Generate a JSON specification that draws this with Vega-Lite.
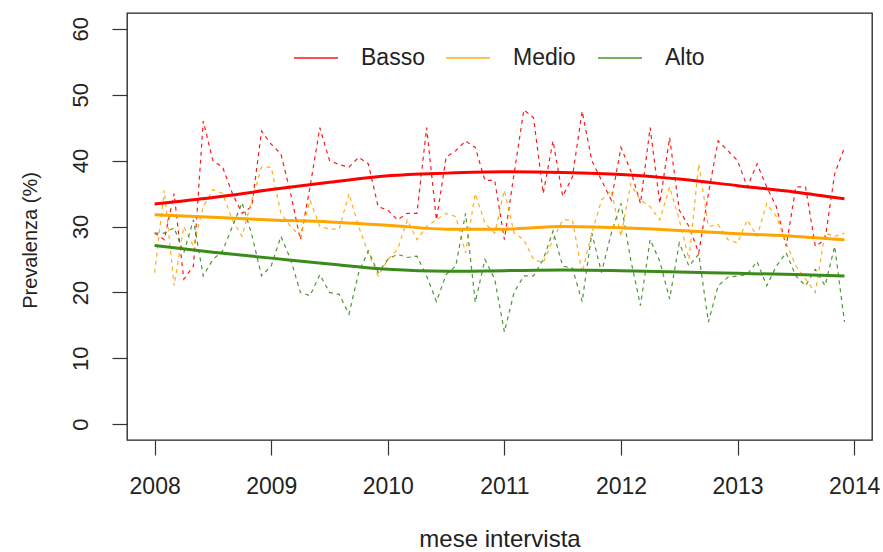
{
  "$schema": "https://vega.github.io/schema/vega-lite/v6.json",
  "width": 745,
  "height": 427,
  "autosize": {"type": "none"},
  "padding": {"left": 127, "top": 13, "right": 11, "bottom": 112},
  "background": "white",
  "config": {
    "view": {"stroke": "#222", "strokeWidth": 1.3},
    "font": "Liberation Sans",
    "axis": {
      "labelFont": "Liberation Sans", "titleFont": "Liberation Sans",
      "labelFontSize": 22, "titleFontSize": 22, "titleFontWeight": "normal",
      "labelColor": "#222", "titleColor": "#222",
      "tickColor": "#333", "tickSize": 15, "tickWidth": 1.2,
      "domain": false, "grid": false
    },
    "legend": {"labelFont": "Liberation Sans"}
  },
  "datasets": {
    "mensile": [
      {"t":2008.000,"Basso":29,"Medio":23,"Alto":29},
      {"t":2008.083,"Basso":28,"Medio":35.5,"Alto":29},
      {"t":2008.167,"Basso":35,"Medio":21,"Alto":29.8},
      {"t":2008.250,"Basso":22,"Medio":30,"Alto":26},
      {"t":2008.333,"Basso":24,"Medio":27,"Alto":31},
      {"t":2008.417,"Basso":46,"Medio":33,"Alto":22.5},
      {"t":2008.500,"Basso":40,"Medio":35.6,"Alto":25},
      {"t":2008.583,"Basso":39,"Medio":35,"Alto":26.3},
      {"t":2008.667,"Basso":35,"Medio":31,"Alto":30},
      {"t":2008.750,"Basso":32,"Medio":28.5,"Alto":33.6},
      {"t":2008.833,"Basso":33,"Medio":34,"Alto":28.8},
      {"t":2008.917,"Basso":44.5,"Medio":39,"Alto":22.5},
      {"t":2009.000,"Basso":42.5,"Medio":39,"Alto":24},
      {"t":2009.083,"Basso":41,"Medio":32,"Alto":28.5},
      {"t":2009.167,"Basso":35,"Medio":30,"Alto":25},
      {"t":2009.250,"Basso":28,"Medio":28.5,"Alto":20},
      {"t":2009.333,"Basso":36,"Medio":34,"Alto":19.5},
      {"t":2009.417,"Basso":45,"Medio":30,"Alto":22.7},
      {"t":2009.500,"Basso":40,"Medio":29.6,"Alto":20},
      {"t":2009.583,"Basso":39.4,"Medio":29.6,"Alto":19.7},
      {"t":2009.667,"Basso":39,"Medio":35,"Alto":16.7},
      {"t":2009.750,"Basso":40.5,"Medio":30,"Alto":23},
      {"t":2009.833,"Basso":39.5,"Medio":26,"Alto":26.3},
      {"t":2009.917,"Basso":33,"Medio":22.5,"Alto":23},
      {"t":2010.000,"Basso":32.5,"Medio":25,"Alto":25},
      {"t":2010.083,"Basso":31,"Medio":26.5,"Alto":25.8},
      {"t":2010.167,"Basso":32,"Medio":31,"Alto":25.3},
      {"t":2010.250,"Basso":32,"Medio":28,"Alto":25.5},
      {"t":2010.333,"Basso":45,"Medio":30,"Alto":22.5},
      {"t":2010.417,"Basso":31,"Medio":31,"Alto":18.6},
      {"t":2010.500,"Basso":40.5,"Medio":32,"Alto":22.7},
      {"t":2010.583,"Basso":41.5,"Medio":31.5,"Alto":24},
      {"t":2010.667,"Basso":43,"Medio":26,"Alto":32},
      {"t":2010.750,"Basso":42,"Medio":35,"Alto":18.5},
      {"t":2010.833,"Basso":37,"Medio":30.5,"Alto":25},
      {"t":2010.917,"Basso":37,"Medio":29,"Alto":22},
      {"t":2011.000,"Basso":28,"Medio":35.5,"Alto":14},
      {"t":2011.083,"Basso":38,"Medio":29,"Alto":20},
      {"t":2011.167,"Basso":47.7,"Medio":28,"Alto":22.5},
      {"t":2011.250,"Basso":46.5,"Medio":25,"Alto":22.5},
      {"t":2011.333,"Basso":35,"Medio":24.5,"Alto":25},
      {"t":2011.417,"Basso":43,"Medio":28,"Alto":29.3},
      {"t":2011.500,"Basso":34.6,"Medio":31,"Alto":24},
      {"t":2011.583,"Basso":37.5,"Medio":31,"Alto":23.7},
      {"t":2011.667,"Basso":47.5,"Medio":23,"Alto":18.6},
      {"t":2011.750,"Basso":40,"Medio":29,"Alto":29},
      {"t":2011.833,"Basso":37,"Medio":34,"Alto":23},
      {"t":2011.917,"Basso":34,"Medio":35.5,"Alto":29},
      {"t":2012.000,"Basso":42,"Medio":28.5,"Alto":33.5},
      {"t":2012.083,"Basso":38.5,"Medio":36.5,"Alto":25},
      {"t":2012.167,"Basso":33.5,"Medio":34,"Alto":18},
      {"t":2012.250,"Basso":45,"Medio":33,"Alto":28},
      {"t":2012.333,"Basso":33.5,"Medio":31,"Alto":24.7},
      {"t":2012.417,"Basso":43.5,"Medio":36,"Alto":19},
      {"t":2012.500,"Basso":32.5,"Medio":31,"Alto":27.5},
      {"t":2012.583,"Basso":30,"Medio":25,"Alto":24},
      {"t":2012.667,"Basso":26,"Medio":39.5,"Alto":25.8},
      {"t":2012.750,"Basso":35,"Medio":30,"Alto":15.5},
      {"t":2012.833,"Basso":43,"Medio":30.3,"Alto":21},
      {"t":2012.917,"Basso":41.5,"Medio":28,"Alto":22.3},
      {"t":2013.000,"Basso":40,"Medio":27.5,"Alto":22.5},
      {"t":2013.083,"Basso":36,"Medio":31,"Alto":22.7},
      {"t":2013.167,"Basso":39.5,"Medio":28.5,"Alto":24.7},
      {"t":2013.250,"Basso":36,"Medio":33.5,"Alto":21},
      {"t":2013.333,"Basso":33,"Medio":31.5,"Alto":24},
      {"t":2013.417,"Basso":27,"Medio":27.5,"Alto":26},
      {"t":2013.500,"Basso":36,"Medio":24,"Alto":22.5},
      {"t":2013.583,"Basso":36,"Medio":22,"Alto":21},
      {"t":2013.667,"Basso":27,"Medio":20,"Alto":23.5},
      {"t":2013.750,"Basso":28,"Medio":29,"Alto":21},
      {"t":2013.833,"Basso":38,"Medio":28.5,"Alto":27},
      {"t":2013.917,"Basso":42,"Medio":29,"Alto":15.5}
    ],
    "lisciato": [
      {"t":2008.0,"Basso":33.4,"Medio":31.8,"Alto":27.1},
      {"t":2008.5,"Basso":34.4,"Medio":31.4,"Alto":26.1},
      {"t":2009.0,"Basso":35.6,"Medio":31.0,"Alto":25.2},
      {"t":2009.5,"Basso":36.7,"Medio":30.7,"Alto":24.3},
      {"t":2010.0,"Basso":37.7,"Medio":30.2,"Alto":23.5},
      {"t":2010.5,"Basso":38.1,"Medio":29.6,"Alto":23.2},
      {"t":2011.0,"Basso":38.3,"Medio":29.6,"Alto":23.3},
      {"t":2011.5,"Basso":38.2,"Medio":30.0,"Alto":23.4},
      {"t":2012.0,"Basso":37.9,"Medio":29.8,"Alto":23.3},
      {"t":2012.5,"Basso":37.2,"Medio":29.4,"Alto":23.1},
      {"t":2013.0,"Basso":36.2,"Medio":28.9,"Alto":22.9},
      {"t":2013.5,"Basso":35.2,"Medio":28.5,"Alto":22.7},
      {"t":2013.917,"Basso":34.2,"Medio":28.0,"Alto":22.5}
    ]
  },
  "layer": [
    {
      "data": {"name": "mensile"},
      "transform": [{"fold": ["Basso", "Medio", "Alto"], "as": ["gruppo", "prev"]}],
      "mark": {"type": "line", "clip": true},
      "encoding": {
        "x": {"field": "t", "type": "quantitative"},
        "y": {"field": "prev", "type": "quantitative"},
        "color": {"field": "gruppo", "type": "nominal"},
        "strokeDash": {"value": [4, 4]},
        "strokeWidth": {"value": 1.2},
        "opacity": {"value": 0.9}
      }
    },
    {
      "data": {"name": "lisciato"},
      "transform": [{"fold": ["Basso", "Medio", "Alto"], "as": ["gruppo", "prev"]}],
      "mark": {"type": "line", "interpolate": "monotone", "clip": true},
      "encoding": {
        "x": {
          "field": "t", "type": "quantitative",
          "scale": {"domain": [2007.763, 2014.153], "nice": false, "zero": false},
          "axis": {"values": [2008, 2009, 2010, 2011, 2012, 2013, 2014], "format": "d", "labelPadding": 20,
                   "labelFontSize": 23,
                   "title": "mese intervista", "titleFontSize": 24, "titleY": 99, "titleBaseline": "middle", "labelFlush": false}
        },
        "y": {
          "field": "prev", "type": "quantitative",
          "scale": {"domain": [-2.4, 62.4], "nice": false, "zero": false},
          "axis": {"values": [0, 10, 20, 30, 40, 50, 60], "labelAngle": -90, "labelAlign": "center", "labelBaseline": "bottom",
                   "labelPadding": 20, "title": "Prevalenza (%)", "titleFontSize": 20, "titleAngle": -90, "titleX": -97, "titleY": 227,
                   "titleAlign": "center", "titleBaseline": "middle"}
        },
        "color": {
          "field": "gruppo", "type": "nominal",
          "scale": {"domain": ["Basso", "Medio", "Alto"], "range": ["#FF0000", "#FFA500", "#3A8C1A"]},
          "legend": {
            "title": null, "orient": "none", "direction": "horizontal", "legendX": 166, "legendY": 22,
            "symbolType": "stroke", "symbolSize": 1936, "symbolStrokeWidth": 1.5, "symbolOpacity": 1, "symbolDash": [1, 0],
            "labelFontSize": 23, "labelColor": "#222", "labelOffset": 22, "columnPadding": 18,
            "gridAlign": "all", "padding": 0
          }
        },
        "strokeWidth": {"value": 3}
      }
    }
  ]
}
